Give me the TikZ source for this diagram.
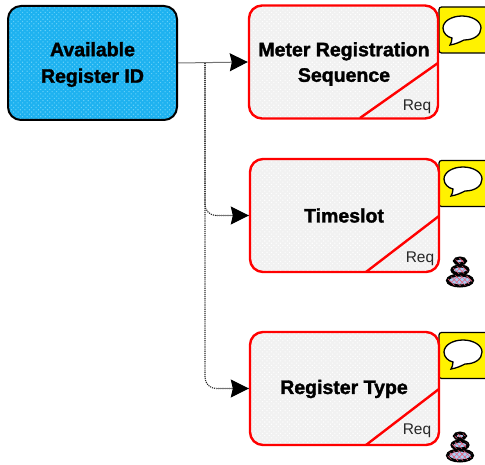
\documentclass[tikz,border=0pt]{standalone}
\usepackage{fontspec}
\setmainfont{Liberation Sans}[BoldFont=*-Bold,BoldFeatures={FakeBold=1.6}]
\usetikzlibrary{patterns,patterns.meta,arrows.meta}
\definecolor{bluebase}{HTML}{1EB2F0}
\definecolor{bluedot}{HTML}{62CFF8}
\definecolor{greybase}{HTML}{F1F1F1}
\definecolor{greydot}{HTML}{FEFEFE}
\definecolor{stackred}{HTML}{E8607A}
\definecolor{stackbase}{HTML}{A9CCF4}
\tikzset{
  x=1pt,y=-1pt,
  source/.style={draw=black,line width=2pt,rounded corners=13pt,minimum width=169pt,minimum height=114pt,inner sep=0pt,
    preaction={fill=bluebase},pattern={Dots[distance=3.2pt,radius=.75pt,angle=45]},pattern color=bluedot},
  entity/.style={draw=red,line width=2.4pt,rounded corners=13pt,minimum width=189pt,minimum height=113pt,inner sep=0pt,
    preaction={fill=greybase},pattern={Dots[distance=3.2pt,radius=.75pt,angle=45]},pattern color=greydot},
  title/.style={align=center,font=\bfseries\fontsize{19.5}{25.5}\selectfont,inner sep=0pt},
  req/.style={font=\fontsize{15.5}{16}\selectfont,text=black!85,inner sep=0pt},
  diag/.style={draw=red,line width=2.4pt},
  note/.style={draw=black,line width=1.2pt,fill=yellow,rounded corners=2.5pt,minimum width=50pt,minimum height=46pt,inner sep=0pt},
  link/.style={draw=black!55,line width=1pt,-{Stealth[length=18pt,width=18pt,inset=2pt,color=black]}},
  branch/.style={draw=black!85,line width=1.1pt,densely dotted,rounded corners=11pt},
  stackpart/.style={draw=black,line width=3pt,preaction={fill=stackbase},pattern={Lines[angle=45,distance=3.8pt,line width=.6pt]},pattern color=stackred,
    postaction={pattern={Lines[angle=-45,distance=3.8pt,line width=.6pt]},pattern color=stackred}},
}
\newcommand{\bubble}[2]{%
  \draw[black,line width=1.3pt,fill=white]
    (#1-12,#2+17) .. controls (#1-6,#2+16) and (#1-2,#2+14) .. (#1+2,#2+12)
    .. controls (#1+12,#2+12) and (#1+19,#2+7) .. (#1+19,#2+0)
    .. controls (#1+19,#2-7) and (#1+10,#2-12) .. (#1+0,#2-12)
    .. controls (#1-10,#2-12) and (#1-19,#2-7) .. (#1-19,#2+0)
    .. controls (#1-19,#2+5) and (#1-15,#2+9) .. (#1-10,#2+10)
    .. controls (#1-10,#2+13) and (#1-11,#2+15) .. (#1-12,#2+17) -- cycle;}
\newcommand{\stackicon}[2]{%
  \draw[stackpart] (#1,#2+8.5) ellipse [x radius=12.5,y radius=5.5];
  \draw[stackpart] (#1,#2-2) ellipse [x radius=8,y radius=4];
  \draw[stackpart] (#1,#2-11) ellipse [x radius=5.5,y radius=3];}
\begin{document}
\begin{tikzpicture}
\useasboundingbox (0,0) rectangle (485,465);
\begin{scope}
\clip (0,0) rectangle (485,465);
\node[note] (n1) at (464,30) {};
\node[note] (n2) at (464,183.5) {};
\node[note] (n3) at (464,355.5) {};
\end{scope}
\bubble{462}{28}
\bubble{463}{179}
\bubble{463}{352}
\node[source] (src) at (92.5,63) {};
\node[title,font=\bfseries\fontsize{19.5}{26.5}\selectfont] (t0) at (92.5,64.5) {Available\\Register ID};
\node[entity] (e1) at (343.5,62) {};
\node[entity] (e2) at (344.5,215.5) {};
\node[entity] (e3) at (344.5,388.5) {};
\coordinate (d1a) at (438,63);  \coordinate (d1b) at (360,118);
\coordinate (d2a) at (439,216); \coordinate (d2b) at (366,272);
\coordinate (d3a) at (439,389); \coordinate (d3b) at (366,445);
\draw[diag] (d1a) -- (d1b);
\draw[diag] (d2a) -- (d2b);
\draw[diag] (d3a) -- (d3b);
\node[title] (t1) at (344,64) {Meter Registration\\Sequence};
\node[title] (t2) at (344,215.5) {Timeslot};
\node[title] (t3) at (344,389) {Register Type};
\node[req] (r1) at (417,107) {Req};
\node[req] (r2) at (420,259) {Req};
\node[req] (r3) at (417,431) {Req};
\coordinate (bus) at (205,63);
\coordinate (c2) at (205,215.5);
\coordinate (c3) at (205,388.5);
\draw[branch] (bus) -- (c2) -- (e2.west);
\draw[branch] (bus) -- (c3) -- (e3.west);
\draw[link] (src.east) -- (e1.west);
\draw[link] ([xshift=-33pt]e2.west) -- (e2.west);
\draw[link] ([xshift=-33pt]e3.west) -- (e3.west);
\stackicon{460}{272}
\stackicon{460}{447}
\end{tikzpicture}
\end{document}
